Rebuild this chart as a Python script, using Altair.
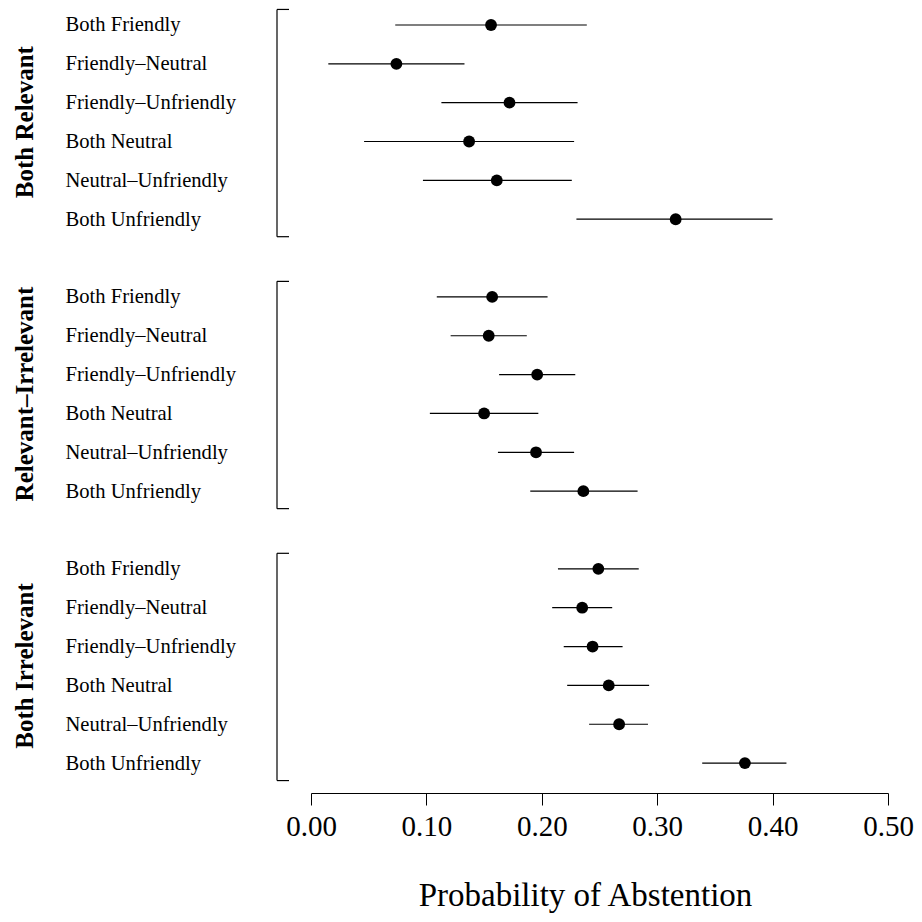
import altair as alt
import pandas as pd

groups = ["Both Relevant", "Relevant–Irrelevant", "Both Irrelevant"]
pairs = ["Both Friendly", "Friendly–Neutral", "Friendly–Unfriendly",
         "Both Neutral", "Neutral–Unfriendly", "Both Unfriendly"]

est_both_rel = [0.156, 0.074, 0.172, 0.137, 0.161, 0.316]
lo_both_rel = [0.073, 0.015, 0.113, 0.046, 0.097, 0.230]
hi_both_rel = [0.239, 0.133, 0.231, 0.228, 0.226, 0.400]

est_rel_irr = [0.157, 0.154, 0.196, 0.150, 0.195, 0.236]
lo_rel_irr = [0.109, 0.121, 0.163, 0.103, 0.162, 0.190]
hi_rel_irr = [0.205, 0.187, 0.229, 0.197, 0.228, 0.283]

est_both_irr = [0.249, 0.235, 0.244, 0.258, 0.267, 0.376]
lo_both_irr = [0.214, 0.209, 0.219, 0.222, 0.241, 0.339]
hi_both_irr = [0.284, 0.261, 0.270, 0.293, 0.292, 0.412]

x_ticks = [0.0, 0.1, 0.2, 0.3, 0.4, 0.5]

est_all = [est_both_rel, est_rel_irr, est_both_irr]
lo_all = [lo_both_rel, lo_rel_irr, lo_both_irr]
hi_all = [hi_both_rel, hi_rel_irr, hi_both_irr]

rows = []
for g, gname in enumerate(groups):
    for r, pname in enumerate(pairs):
        rows.append({"group": gname, "pair": pname, "pos": g * 7 + r,
                     "est": est_all[g][r], "lo": lo_all[g][r], "hi": hi_all[g][r]})
df = pd.DataFrame(rows)

gdf = pd.DataFrame({
    "group": groups,
    "top": [g * 7 - 0.40 for g in range(3)],
    "bottom": [g * 7 + 5.45 for g in range(3)],
    "mid": [g * 7 + 2.5 for g in range(3)],
})

FONT = "Liberation Serif"

xscale = alt.Scale(domain=[0, 0.5], nice=False, zero=False)
yscale = alt.Scale(domain=[-0.437, 19.77], reverse=True, nice=False, zero=False)

label_list = "[" + ",".join("'" + p + "'" for p in pairs) + "]"

xaxis = alt.Axis(values=x_ticks, format=".2f", title="Probability of Abstention",
                 grid=False, labelFont=FONT, labelFontSize=29, labelColor="black",
                 titleFont=FONT, titleFontSize=33, titleFontWeight="normal",
                 titleColor="black", tickSize=12, tickColor="black",
                 domainColor="black", labelPadding=7,
                 titleX=274, titleY=112, titleAlign="center",
                 titleBaseline="alphabetic", labelFlush=False)
yaxis = alt.Axis(values=[g * 7 + r for g in range(3) for r in range(6)],
                 labelExpr=label_list + "[datum.value % 7]",
                 title=None, grid=False, ticks=False, domain=False,
                 labelAlign="left", labelBaseline="middle", labelPadding=246,
                 labelFont=FONT, labelFontSize=20.6, labelColor="black")

base = alt.Chart(df)

bars = base.mark_rule(color="black", strokeWidth=1.2).encode(
    x=alt.X("lo:Q", scale=xscale, axis=xaxis),
    x2="hi:Q",
    y=alt.Y("pos:Q", scale=yscale, axis=yaxis),
)

dots = base.mark_circle(size=140, color="black", opacity=1).encode(
    x=alt.X("est:Q", scale=xscale, axis=xaxis),
    y=alt.Y("pos:Q", scale=yscale, axis=yaxis),
)

gbase = alt.Chart(gdf)
vbr = gbase.mark_rule(color="black", strokeWidth=1.2).encode(
    x=alt.value(-34),
    y=alt.Y("top:Q", scale=yscale, axis=yaxis),
    y2="bottom:Q",
)
ttop = gbase.mark_rule(color="black", strokeWidth=1.2).encode(
    x=alt.value(-34), x2=alt.value(-22),
    y=alt.Y("top:Q", scale=yscale, axis=yaxis),
)
tbot = gbase.mark_rule(color="black", strokeWidth=1.2).encode(
    x=alt.value(-34), x2=alt.value(-22),
    y=alt.Y("bottom:Q", scale=yscale, axis=yaxis),
)
glab = gbase.mark_text(angle=270, font=FONT, fontSize=25, fontWeight="bold",
                       color="black", align="center", baseline="middle").encode(
    x=alt.value(-286),
    y=alt.Y("mid:Q", scale=yscale, axis=yaxis),
    text="group:N",
)

chart = alt.layer(bars, dots, vbr, ttop, tbot, glab).properties(
    width=577, height=785,
    background="white",
    autosize=alt.AutoSizeParams(type="none"),
    padding={"left": 303, "top": 0, "right": 26, "bottom": 121},
).configure_view(stroke=None, strokeWidth=0)

chart.save("out.html", embed_options={"renderer": "svg", "actions": False})
